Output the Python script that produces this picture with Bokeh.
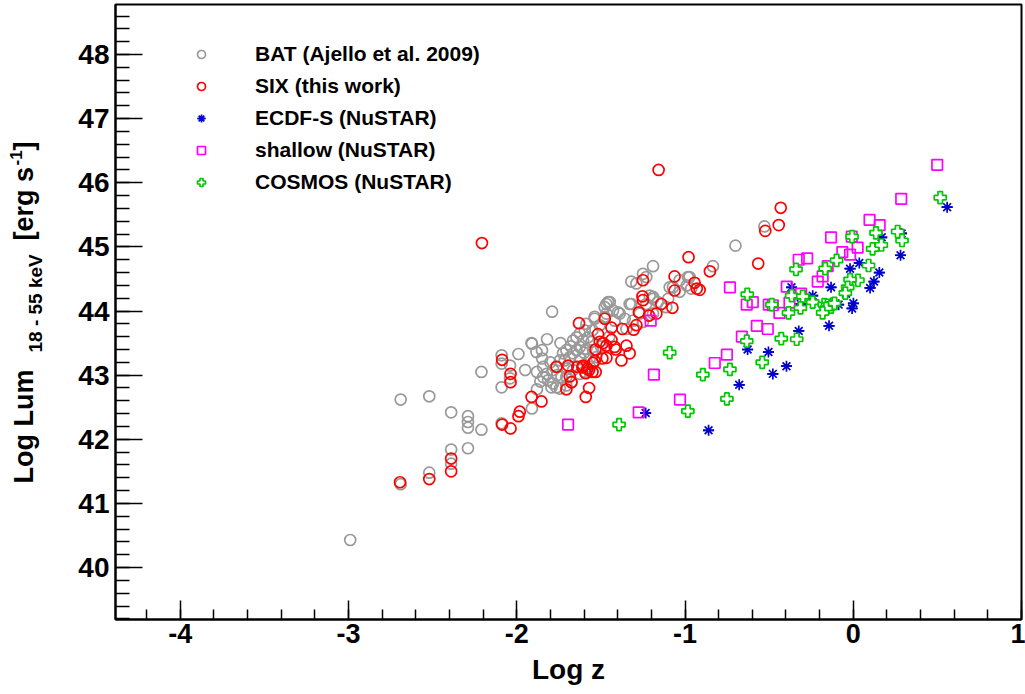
import numpy as np
from bokeh.plotting import figure
from bokeh.models import Range1d, SingleIntervalTicker, Legend, LegendItem, CustomJSTickFormatter
from bokeh.layouts import row
from bokeh.embed import file_html
from bokeh.resources import INLINE
from bokeh.core.properties import value

# ---------------- data (log z, log L 18-55 keV) ----------------
bat_logz = [-2.99, -2.69, -2.69, -2.52, -2.52, -2.39, -2.39, -2.39, -2.29, -2.29, -2.29, -2.29, -2.21, -2.21,
            -2.09, -2.09, -2.09, -2.09, -2.04, -2.04, -1.99, -1.95, -1.91, -1.88, -1.91, -1.79, -1.82, -1.85,
            -1.912, -1.883, -1.849, -1.843, -1.823, -1.843, -1.814, -1.784, -1.764, -1.744, -1.794, -1.784,
            -1.764, -1.744, -1.725, -1.705, -1.715, -1.685, -1.665, -1.645, -1.625, -1.665, -1.645, -1.625,
            -1.606, -1.596, -1.576, -1.556, -1.586, -1.547, -1.527, -1.566, -1.537, -1.507, -1.477, -1.467,
            -1.457, -1.428, -1.418, -1.388, -1.358, -1.319, -1.705, -1.665, -1.625, -1.596, -1.566, -1.734,
            -1.705, -1.675, -1.25, -1.21, -1.19, -1.161, -1.111, -1.091, -1.032, -0.983, -0.963, -1.289,
            -1.23, -1.269, -1.19, -1.25, -1.309, -1.348, -0.528, -0.70, -0.834, -1.19, -1.319, -1.23,
            -0.973, -0.99, -1.072, -1.032, -1.10, -1.19, -1.329, -1.447, -1.477, -1.467, -1.537, -1.586,
            -1.398, -1.88, -1.86, -1.80, -1.76, -1.70, -1.62, -1.60, -1.68, -1.74, -1.55, -1.50, -1.45]
bat_loglum = [40.43, 42.62, 41.30, 42.67, 41.48, 42.42, 41.84, 41.62, 42.36, 42.27, 42.18, 41.86, 42.15, 43.05,
              43.31, 42.81, 42.25, 43.18, 43.15, 42.95, 43.33, 43.08, 43.49, 42.78, 42.48, 43.99, 43.56, 43.39,
              43.50, 43.36, 43.26, 43.13, 43.02, 42.97, 42.92, 42.87, 42.81, 42.79, 42.81, 43.08,
              43.13, 43.23, 43.34, 43.39, 43.23, 43.28, 43.34, 43.39, 43.44, 43.54, 43.59, 43.65,
              43.54, 43.70, 43.59, 43.52, 43.41, 43.39, 43.28, 43.26, 43.88, 43.78, 43.91, 44.11,
              44.14, 44.01, 43.85, 43.96, 43.88, 44.11, 42.97, 43.08, 43.02, 43.05, 43.13, 42.97,
              42.84, 42.89, 44.58, 44.24, 44.19, 44.14, 44.06, 44.37, 44.48, 44.53, 44.35, 44.43,
              44.11, 43.96, 43.96, 43.83, 43.85, 43.72, 45.32, 45.02, 44.70, 44.70, 44.46, 44.53,
              44.53, 44.40, 44.37, 44.30, 44.19, 44.22, 44.11, 44.14, 44.06, 43.96, 43.91, 43.80,
              43.98, 43.05, 42.90, 43.20, 43.00, 43.10, 43.25, 43.35, 43.45, 43.50, 43.70, 43.45, 43.60]

six_logz = [-2.694, -2.52, -2.39, -2.39, -2.207, -2.087, -2.037, -2.037, -1.912, -1.853, -1.982, -1.99,
            -2.087, -2.037, -1.764, -1.695, -1.685, -1.675, -1.705, -1.570, -1.59, -1.630, -1.64, -1.61,
            -1.58, -1.59, -1.55, -1.57, -1.531, -1.537, -1.491, -1.467, -1.532, -1.507, -1.467, -1.437,
            -1.418, -1.348, -1.329, -1.378, -1.517, -1.477, -1.437, -1.372, -1.305, -1.289, -1.274,
            -1.253, -1.250, -1.214, -1.170, -1.141, -1.075, -1.062, -1.062, -1.25, -0.943, -0.93,
            -1.157, -0.431, -0.443, -0.523, -0.565, -0.852, -0.979, -0.913, -1.412, -1.487, -1.547, -1.606]
six_loglum = [41.33, 41.38, 41.70, 41.50, 45.06, 43.24, 43.02, 42.89, 42.66, 42.59, 42.43, 42.36,
              42.23, 42.17, 43.13, 43.15, 42.98, 42.89, 42.78, 42.80, 42.66, 43.81, 43.13, 43.12,
              43.10, 43.03, 43.05, 43.08, 43.05, 43.22, 43.26, 43.27, 43.40, 43.52, 43.46, 43.55,
              43.44, 43.46, 43.34, 43.23, 43.64, 43.88, 43.74, 43.72, 43.71, 43.78, 43.98,
              44.23, 44.17, 43.93, 43.96, 44.11, 44.05, 44.32, 44.54, 44.48, 44.44, 44.35,
              46.20, 45.61, 45.34, 45.25, 44.74, 44.62, 44.84, 44.33, 43.40, 43.50, 43.19, 43.15]

ecdfs_logz = [0.558, 0.281, 0.287, 0.169, 0.155, 0.123, 0.100, 0.036, -0.019, -0.132, -0.043, 0.001,
              -0.007, -0.087, -0.241, -0.312, -0.367, -0.144, -0.324, -0.504, -0.628, -0.397, -0.478,
              -0.678, -0.860, -1.234]
ecdfs_loglum = [45.62, 44.87, 45.21, 45.15, 44.60, 44.46, 44.36, 44.75, 44.66, 44.37, 44.27, 44.12,
                44.04, 44.10, 44.24, 44.11, 44.37, 43.77, 43.69, 43.36, 43.40, 43.14, 43.02,
                42.85, 42.14, 42.41]

shallow_logz = [0.499, 0.285, 0.097, 0.157, -0.132, -0.009, 0.026, -0.065, -0.019, -0.274, -0.324, -0.152,
                -0.182, -0.211, -0.395, -0.310, -0.379, -0.439, -0.502, -0.478, -0.597, -0.633, -0.733,
                -0.573, -0.508, -0.662, -0.751, -0.823, -1.185, -1.030, -1.275, -1.204, -1.695]
shallow_loglum = [46.28, 45.75, 45.42, 45.34, 45.15, 45.16, 44.99, 44.92, 44.88, 44.82, 44.80, 44.70,
                  44.54, 44.46, 44.38, 44.27, 44.13, 43.97, 44.10, 44.09, 44.14, 44.10, 44.37,
                  43.77, 43.72, 43.60, 43.32, 43.19, 43.01, 42.62, 42.42, 43.85, 42.23]

cosmos_logz = [0.517, 0.264, 0.290, 0.135, 0.115, 0.167, -0.007, 0.091, 0.028, -0.019, -0.033, -0.047,
               -0.099, -0.167, -0.340, -0.366, -0.300, -0.241, -0.314, -0.172, -0.152, -0.122, -0.132,
               -0.112, -0.161, -0.182, -0.385, -0.484, -0.630, -0.633, -0.428, -0.336, -0.541, -0.733,
               -0.894, -0.751, -0.983, -1.091, -1.392]
cosmos_loglum = [45.77, 45.24, 45.10, 45.22, 44.97, 45.03, 45.16, 44.71, 44.48, 44.49, 44.37, 44.28,
                 44.79, 44.66, 44.65, 44.24, 44.23, 44.14, 44.05, 44.10, 44.09, 44.11, 44.06,
                 44.12, 44.04, 43.97, 43.97, 44.10, 44.26, 43.53, 43.57, 43.56, 43.20, 43.09,
                 43.01, 42.63, 42.44, 43.35, 42.23]

labels = ["BAT (Ajello et al. 2009)", "SIX (this work)", "ECDF-S (NuSTAR)",
          "shallow (NuSTAR)", "COSMOS (NuSTAR)"]

FONT = "Liberation Sans"
H = 694
TOP, BOTTOM = 4, 75   # borders of the main plot frame

# ---------------- main plot ----------------
p = figure(width=965, height=H, x_range=Range1d(-4.385, 1.0), y_range=Range1d(39.19, 48.78),
           output_backend="svg", toolbar_location=None,
           min_border_left=55, min_border_right=4, min_border_top=TOP, min_border_bottom=BOTTOM)
p.grid.visible = False
p.outline_line_color = "black"
p.outline_line_width = 2

for ax in (p.xaxis[0], p.yaxis[0]):
    ax.axis_line_width = 2
    ax.major_tick_out = 0
    ax.minor_tick_out = 0
    ax.major_tick_line_width = 1.5
    ax.minor_tick_line_width = 1.5
    ax.major_label_text_font = FONT
    ax.major_label_text_font_style = "bold"
    ax.major_label_text_color = "black"
    ax.formatter = CustomJSTickFormatter(code="return tick.toFixed(0)")

p.xaxis.ticker = SingleIntervalTicker(interval=1, num_minor_ticks=5)
p.yaxis.ticker = SingleIntervalTicker(interval=1, num_minor_ticks=5)
p.xaxis.major_tick_in = 19
p.xaxis.minor_tick_in = 10
p.yaxis.major_tick_in = 27
p.yaxis.minor_tick_in = 14
p.xaxis.major_label_text_font_size = "27px"
p.yaxis.major_label_text_font_size = "28px"
p.xaxis.major_label_standoff = 4
p.yaxis.major_label_standoff = 6
p.xaxis.axis_label = "Log z"
p.xaxis.axis_label_text_font = FONT
p.xaxis.axis_label_text_font_style = "bold"
p.xaxis.axis_label_text_font_size = "28px"
p.xaxis.axis_label_standoff = 8
p.xaxis.axis_label_text_color = "black"

r_bat = p.scatter(bat_logz, bat_loglum, marker="circle", size=11, fill_color=None,
                  line_color="#999999", line_width=1.7)
r_six = p.scatter(six_logz, six_loglum, marker="circle", size=11, fill_color=None,
                  line_color="#ff0000", line_width=1.7)
r_ec1 = p.scatter(ecdfs_logz, ecdfs_loglum, marker="asterisk", size=11,
                  line_color="#0000cc", line_width=1.7)
r_ec2 = p.scatter(ecdfs_logz, ecdfs_loglum, marker="dash", size=11,
                  line_color="#0000cc", line_width=1.7)
r_sh = p.scatter(shallow_logz, shallow_loglum, marker="square", size=10.5, fill_color=None,
                 line_color="#ff00ff", line_width=1.7)
r_co = p.scatter(cosmos_logz, cosmos_loglum, marker="plus", size=12, fill_color="white",
                 line_color="#00c800", line_width=1.7)

legend = Legend(items=[LegendItem(label=labels[0], renderers=[r_bat]),
                       LegendItem(label=labels[1], renderers=[r_six]),
                       LegendItem(label=labels[2], renderers=[r_ec1, r_ec2]),
                       LegendItem(label=labels[3], renderers=[r_sh]),
                       LegendItem(label=labels[4], renderers=[r_co])],
                location=(76, 425), padding=0, margin=0, spacing=8,
                glyph_width=20, glyph_height=20, label_height=20, label_standoff=44,
                label_text_font=FONT, label_text_font_style="bold",
                label_text_font_size="21px", label_text_color="black",
                border_line_color=None, background_fill_alpha=0)
p.add_layout(legend)

# ---------------- y-axis title (with sub/superscripts) ----------------
# data units of this panel = screen pixels of the page (y measured from top: H - y)
lf = figure(width=60, height=H, x_range=Range1d(0, 60), y_range=Range1d(BOTTOM, H - TOP),
            output_backend="svg", toolbar_location=None, min_border=0,
            min_border_top=TOP, min_border_bottom=BOTTOM,
            x_axis_location=None, y_axis_location=None)
lf.grid.visible = False
lf.outline_line_color = None
ang = np.pi / 2
common = dict(angle=ang, text_font=value(FONT), text_font_style="bold",
              text_baseline="alphabetic", text_align="left", text_color="black")
lf.text(x=[23], y=[H - 483], text=["Log Lum"], text_font_size="27px", **common)
lf.text(x=[35], y=[H - 352], text=["18 - 55 keV"], text_font_size="19px", **common)
lf.text(x=[23], y=[H - 240], text=["[erg s"], text_font_size="27px", **common)
lf.text(x=[15], y=[H - 165], text=["-1"], text_font_size="17px", **common)
lf.text(x=[23], y=[H - 150], text=[" ]"], text_font_size="27px", **common)

layout = row(lf, p)
open("out.html", "w").write(file_html(layout, INLINE))
